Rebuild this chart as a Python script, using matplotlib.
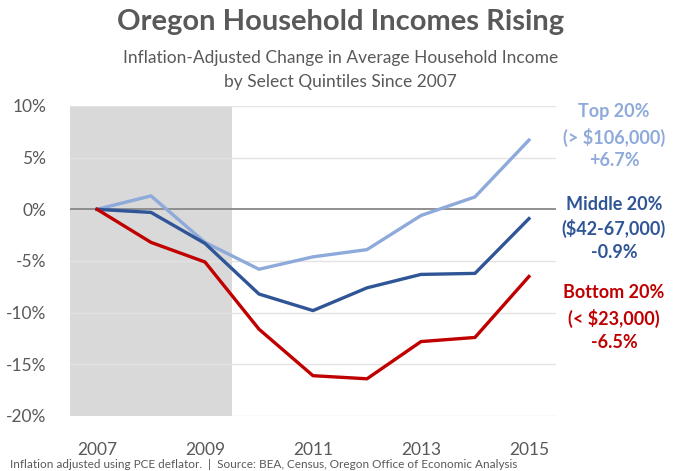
import matplotlib
matplotlib.use("Agg")
import matplotlib.pyplot as plt
from matplotlib.ticker import FuncFormatter

years = [2007, 2008, 2009, 2010, 2011, 2012, 2013, 2014, 2015]
top20 = [0.0, 1.3, -3.2, -5.8, -4.6, -3.9, -0.6, 1.2, 6.7]
middle20 = [0.0, -0.3, -3.3, -8.2, -9.8, -7.6, -6.3, -6.2, -0.9]
bottom20 = [0.0, -3.2, -5.1, -11.6, -16.1, -16.4, -12.8, -12.4, -6.5]

series_labels = [
    ("Top 20%", "(> $106,000)", "+6.7%"),
    ("Middle 20%", "($42-67,000)", "-0.9%"),
    ("Bottom 20%", "(< $23,000)", "-6.5%"),
]
year_ticks = [2007, 2009, 2011, 2013, 2015]
recession = (2006.5, 2009.5)

c_top = "#8eaadb"
c_mid = "#2f5597"
c_bot = "#c00000"
txt = "#595959"

plt.rcParams["font.family"] = ["Lato", "DejaVu Sans"]

fig = plt.figure(figsize=(6.81, 4.71), dpi=100)
ax = fig.add_axes([0.1028, 0.1168, 0.7136, 0.6582])

ax.axvspan(*recession, color="#d9d9d9", zorder=0, lw=0)
for v in [10, 5, -5, -10, -15, -20]:
    ax.axhline(v, color="#e3e3e3", lw=1.0, zorder=1)
ax.axhline(0, color="#888888", lw=1.3, zorder=2)

ax.plot(years, top20, color=c_top, lw=2.4, zorder=3, solid_joinstyle="round")
ax.plot(years, middle20, color=c_mid, lw=2.4, zorder=4, solid_joinstyle="round")
ax.plot(years, bottom20, color=c_bot, lw=2.4, zorder=5, solid_joinstyle="round")

ax.set_xlim(2006.5, 2015.5)
ax.set_ylim(-20, 10)
ax.set_xticks(year_ticks)
ax.set_yticks([10, 5, 0, -5, -10, -15, -20])
ax.yaxis.set_major_formatter(FuncFormatter(lambda v, p: f"{v:.0f}%"))
ax.tick_params(axis="both", length=0, labelsize=12.5, labelcolor=txt)
ax.tick_params(axis="x", pad=19)
ax.tick_params(axis="y", pad=17)
for s in ax.spines.values():
    s.set_visible(False)

# Series annotations to the right of the plot
label_y = [(112, 137, 161), (204, 228, 252), (293, 318, 343)]
colors = [c_top, c_mid, c_bot]
for (lines, ys, col) in zip(series_labels, label_y, colors):
    for line, y in zip(lines, ys):
        fig.text(614 / 681, 1 - y / 471, line, ha="center", va="center",
                 color=col, fontsize=13, fontweight="bold")

fig.text(0.5, 1 - 22 / 471, "Oregon Household Incomes Rising", ha="center",
         va="center", fontsize=21, fontweight="bold", color=txt)
fig.text(0.5, 1 - 58 / 471, "Inflation-Adjusted Change in Average Household Income",
         ha="center", va="center", fontsize=12.5, color=txt)
fig.text(0.5, 1 - 82 / 471, "by Select Quintiles Since 2007",
         ha="center", va="center", fontsize=12.5, color=txt)
fig.text(10 / 681, 1 - 464 / 471,
         "Inflation adjusted using PCE deflator.  |  Source: BEA, Census, Oregon Office of Economic Analysis",
         ha="left", va="center", fontsize=8.5, color=txt)

fig.savefig("out.png", dpi=100, facecolor="white")
